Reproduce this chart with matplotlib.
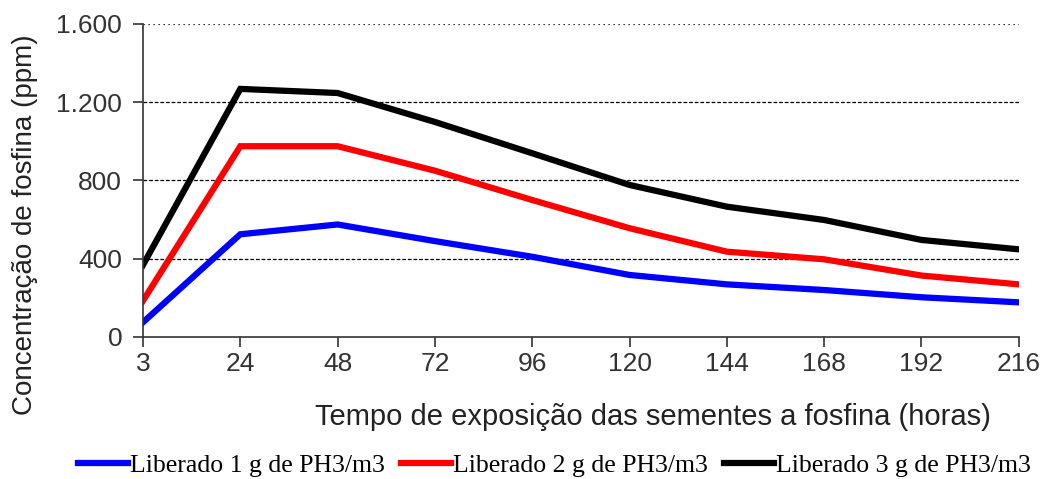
#Fosfina concentration over exposure time for three release doses
import matplotlib.pyplot as plt
from matplotlib.ticker import FuncFormatter

plt.rcParams['font.family'] = ['Liberation Sans', 'DejaVu Sans']

#exposure time (hours), plotted as evenly spaced categories
hours = ["3", "24", "48", "72", "96", "120", "144", "168", "192", "216"]

#concentration (ppm)
dose1 = [75, 525, 575, 490, 410, 317, 269, 240, 203, 177]
dose2 = [185, 975, 975, 850, 700, 556, 436, 397, 314, 269]
dose3 = [368, 1268, 1247, 1099, 939, 777, 666, 598, 496, 448]

labels = ["Liberado 1 g de PH3/m3", "Liberado 2 g de PH3/m3", "Liberado 3 g de PH3/m3"]
colors = ["#0000ff", "#ff0000", "#000000"]

yticks = [0, 400, 800, 1200, 1600]

fig = plt.figure(figsize=(10.46, 4.79), dpi=100)
ax = fig.add_axes([0.1367, 0.2965, 0.974 - 0.1367, 0.95 - 0.2965])

x = list(range(len(hours)))
for values, label, color in zip([dose1, dose2, dose3], labels, colors):
    ax.plot(x, values, color=color, linewidth=4.5, label=label, solid_joinstyle='miter')

#gridlines: dashed for inner values, dotted for the top
for y in yticks[1:-1]:
    ax.axhline(y, color='black', linestyle=(0, (3, 1.5)), linewidth=0.9, zorder=0)
ax.axhline(yticks[-1], color='black', linestyle=(0, (1, 3)), linewidth=0.9, zorder=0)

ax.set_xlim(0, len(hours) - 1)
ax.set_ylim(0, 1600)
ax.set_xticks(x)
ax.set_xticklabels(hours)
ax.set_yticks(yticks)
ax.yaxis.set_major_formatter(FuncFormatter(lambda v, p: f"{int(v):,}".replace(",", ".")))

for side in ['top', 'right']:
    ax.spines[side].set_visible(False)
for side in ['left', 'bottom']:
    ax.spines[side].set_color('#333333')
    ax.spines[side].set_linewidth(1.2)

ax.tick_params(axis='both', direction='out', length=7, width=1.2, color='#333333',
               labelsize=19, labelcolor='#333333')
ax.tick_params(axis='y', pad=8)
ax.tick_params(axis='x', pad=4)

ax.set_ylabel("Concentração de fosfina (ppm)", fontsize=20, color='#222222')
ax.yaxis.set_label_coords(-0.12, 0.36)
ax.set_xlabel("Tempo de exposição das sementes a fosfina (horas)", fontsize=21,
              color='#222222')
ax.xaxis.set_label_coords(0.582, -0.21)

fig.legend(loc='center', bbox_to_anchor=(0.53, 0.028), ncol=3, frameon=False,
           prop={'family': 'Liberation Serif', 'size': 18.5}, handlelength=1.95,
           handletextpad=0.1, columnspacing=0.6)

plt.savefig("out.png", dpi=100)
